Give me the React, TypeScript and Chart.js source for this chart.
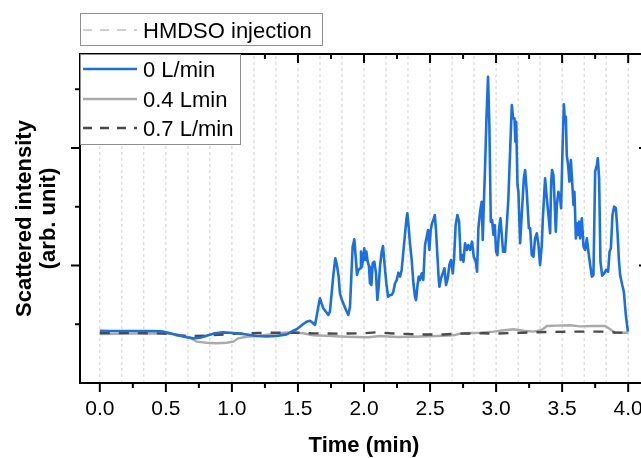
import { useEffect, useRef } from 'react'
import { Chart, registerables } from 'chart.js'

Chart.register(...registerables)

const FONT = "'Liberation Sans', Arial, sans-serif"

const X_TICKS = [0, 0.5, 1, 1.5, 2, 2.5, 3, 3.5, 4]
const X_TICK_LABELS = ['0.0', '0.5', '1.0', '1.5', '2.0', '2.5', '3.0', '3.5', '4.0']
const X_MINOR = [0.25, 0.75, 1.25, 1.75, 2.25, 2.75, 3.25, 3.75]
const Y_MAJOR = [1, 2]
const Y_MINOR = [0.5, 1.5, 2.5]
const X_MIN = -0.15
const X_MAX = 4.15
const Y_MAX = 2.8

const SERIES_NAMES = ['0 L/min', '0.4 Lmin', '0.7 L/min']
const INJECTION_NAME = 'HMDSO injection'

// HMDSO pulses, every 10 s
const INJECTIONS = [
  0, 0.167, 0.333, 0.5, 0.667, 0.833, 1, 1.167, 1.333, 1.5, 1.667, 1.833, 2,
  2.167, 2.333, 2.5, 2.667, 2.833, 3, 3.167, 3.333, 3.5, 3.667, 3.833, 4,
]

// [time (min), intensity]
const FLOW_0 = [
  [0, 0.445], [0.076, 0.443], [0.177, 0.443], [0.303, 0.443], [0.391, 0.443], [0.467, 0.44],
  [0.518, 0.428], [0.581, 0.409], [0.657, 0.389], [0.707, 0.38], [0.758, 0.386], [0.808, 0.403],
  [0.871, 0.423], [0.934, 0.431], [0.985, 0.428], [1.035, 0.423], [1.086, 0.417], [1.136, 0.409],
  [1.187, 0.4], [1.263, 0.397], [1.338, 0.4], [1.414, 0.414], [1.439, 0.428], [1.465, 0.445],
  [1.49, 0.457], [1.515, 0.479], [1.54, 0.502], [1.566, 0.522], [1.591, 0.53], [1.611, 0.513],
  [1.629, 0.494], [1.641, 0.564], [1.654, 0.649], [1.667, 0.721], [1.679, 0.678], [1.692, 0.636],
  [1.712, 0.607], [1.73, 0.579], [1.742, 0.607], [1.755, 0.763], [1.768, 0.919], [1.783, 1.061],
  [1.795, 1.004], [1.808, 0.905], [1.818, 0.763], [1.833, 0.706], [1.848, 0.664], [1.864, 0.621],
  [1.881, 0.579], [1.894, 0.649], [1.904, 0.905], [1.914, 1.16], [1.927, 1.223], [1.937, 1.075],
  [1.947, 0.919], [1.957, 0.962], [1.97, 0.976], [1.977, 1.118], [1.985, 0.99], [1.995, 1.075],
  [2.002, 1.146], [2.01, 1.047], [2.018, 1.118], [2.028, 1.033], [2.038, 0.99], [2.045, 0.849],
  [2.056, 0.834], [2.066, 1.019], [2.078, 1.033], [2.091, 0.933], [2.101, 0.706], [2.111, 0.82],
  [2.121, 0.99], [2.134, 1.118], [2.144, 1.166], [2.157, 0.99], [2.169, 0.849], [2.182, 0.735],
  [2.197, 0.749], [2.21, 0.749], [2.222, 0.777], [2.235, 0.849], [2.248, 0.877], [2.26, 0.939],
  [2.273, 0.905], [2.285, 0.962], [2.298, 1.118], [2.311, 1.274], [2.321, 1.393], [2.328, 1.444],
  [2.338, 1.33], [2.348, 1.189], [2.361, 1.047], [2.374, 0.849], [2.386, 0.735], [2.394, 0.706],
  [2.404, 0.82], [2.414, 0.905], [2.424, 0.877], [2.437, 0.933], [2.449, 0.877], [2.462, 1.174],
  [2.475, 1.245], [2.485, 1.302], [2.495, 1.132], [2.505, 1.302], [2.515, 1.359], [2.525, 1.387],
  [2.536, 1.43], [2.545, 1.302], [2.556, 1.075], [2.566, 0.877], [2.571, 0.82], [2.583, 0.891],
  [2.596, 0.933], [2.609, 0.976], [2.621, 0.834], [2.634, 0.891], [2.646, 1.004], [2.659, 1.047],
  [2.672, 0.933], [2.682, 1.061], [2.694, 1.345], [2.707, 1.43], [2.72, 1.373], [2.732, 1.047],
  [2.742, 1.089], [2.753, 1.033], [2.765, 1.189], [2.778, 1.132], [2.79, 1.174], [2.803, 1.132],
  [2.818, 1.203], [2.831, 1.075], [2.846, 1.033], [2.856, 0.947], [2.866, 1.317], [2.879, 1.458],
  [2.891, 1.543], [2.899, 1.217], [2.907, 1.515], [2.917, 1.855], [2.927, 2.253], [2.939, 2.607],
  [2.949, 2.196], [2.96, 1.373], [2.97, 1.387], [2.98, 1.26], [2.99, 1.345], [3, 1.118],
  [3.01, 1.089], [3.023, 1.317], [3.033, 1.401], [3.043, 1.26], [3.053, 1.118], [3.068, 1.118],
  [3.081, 1.345], [3.093, 1.572], [3.106, 1.969], [3.119, 2.366], [3.129, 2.253], [3.139, 2.253],
  [3.146, 2.054], [3.152, 2.224], [3.162, 1.685], [3.169, 1.628], [3.182, 1.189], [3.197, 1.487],
  [3.21, 1.742], [3.22, 1.813], [3.232, 1.628], [3.248, 1.317], [3.258, 1.317], [3.27, 1.089],
  [3.283, 1.075], [3.295, 1.231], [3.308, 1.274], [3.321, 1.174], [3.333, 1.004], [3.346, 1.174],
  [3.354, 1.401], [3.371, 1.742], [3.384, 1.572], [3.396, 1.43], [3.409, 1.274], [3.417, 1.713],
  [3.424, 1.813], [3.434, 1.77], [3.444, 1.515], [3.452, 1.288], [3.46, 1.515], [3.472, 1.628],
  [3.485, 1.572], [3.492, 1.487], [3.503, 1.997], [3.513, 2.372], [3.52, 2.253], [3.528, 2.267],
  [3.535, 1.94], [3.545, 1.855], [3.555, 1.713], [3.566, 1.898], [3.576, 1.713], [3.586, 1.515],
  [3.593, 1.628], [3.604, 1.231], [3.611, 1.359], [3.619, 1.26], [3.629, 1.373], [3.636, 1.231],
  [3.649, 1.401], [3.662, 1.16], [3.674, 1.132], [3.687, 1.231], [3.699, 1.118], [3.712, 1.004],
  [3.725, 0.905], [3.737, 0.919], [3.75, 1.799], [3.763, 1.855], [3.77, 1.912], [3.78, 1.742],
  [3.79, 1.033], [3.803, 0.913], [3.818, 0.933], [3.833, 0.962], [3.848, 0.947], [3.859, 1.118],
  [3.869, 1.146], [3.881, 1.43], [3.894, 1.501], [3.907, 1.487], [3.919, 1.288], [3.929, 1.061],
  [3.939, 0.919], [3.955, 0.834], [3.967, 0.777], [3.982, 0.579], [3.998, 0.437],
]

const FLOW_04 = [
  [0, 0.417], [0.2, 0.42], [0.48, 0.423], [0.581, 0.414], [0.682, 0.389], [0.732, 0.352],
  [0.808, 0.343], [0.884, 0.338], [0.96, 0.343], [1.01, 0.352], [1.048, 0.38], [1.111, 0.394],
  [1.187, 0.4], [1.288, 0.414], [1.389, 0.428], [1.465, 0.431], [1.54, 0.423], [1.616, 0.406],
  [1.75, 0.4], [1.869, 0.394], [2.033, 0.389], [2.121, 0.4], [2.25, 0.392], [2.374, 0.394],
  [2.551, 0.4], [2.677, 0.406], [2.74, 0.423], [2.879, 0.428], [2.98, 0.437], [3.03, 0.445],
  [3.131, 0.457], [3.207, 0.445], [3.283, 0.437], [3.34, 0.45], [3.359, 0.462], [3.384, 0.485],
  [3.46, 0.488], [3.561, 0.491], [3.636, 0.482], [3.737, 0.485], [3.826, 0.485], [3.864, 0.457],
  [3.902, 0.428], [4, 0.428],
]

const FLOW_07 = [
  [0, 0.425], [0.2, 0.425], [0.4, 0.423], [0.5, 0.42], [0.6, 0.405], [0.7, 0.4], [0.8, 0.403],
  [0.9, 0.41], [1, 0.418], [1.1, 0.423], [1.2, 0.425], [1.3, 0.428], [1.4, 0.428], [1.5, 0.428],
  [1.6, 0.423], [1.8, 0.42], [2, 0.423], [2.1, 0.432], [2.2, 0.423], [2.4, 0.413], [2.6, 0.413],
  [2.7, 0.42], [2.9, 0.423], [3, 0.42], [3.1, 0.425], [3.2, 0.428], [3.4, 0.435], [3.6, 0.437],
  [3.8, 0.437], [3.9, 0.43], [4, 0.428],
]

const toPts = (rows: number[][]) => rows.map(([x, y]) => ({ x, y }))

// box, ticks (out on bottom/left, in on top/right) and the two legend boxes
const framePlugin = {
  id: 'frame',
  afterDraw(chart: any) {
    const { ctx, chartArea: a, scales } = chart
    const sx = scales.x
    const sy = scales.y
    ctx.save()
    ctx.strokeStyle = '#000'
    ctx.lineWidth = 2
    ctx.setLineDash([])
    ctx.strokeRect(a.left, a.top, a.right - a.left, a.bottom - a.top)
    const seg = (x1: number, y1: number, x2: number, y2: number) => {
      ctx.beginPath()
      ctx.moveTo(x1, y1)
      ctx.lineTo(x2, y2)
      ctx.stroke()
    }
    const xt = (vals: number[], len: number) => vals.forEach(v => {
      const p = sx.getPixelForValue(v)
      seg(p, a.bottom, p, a.bottom + len)
      seg(p, a.top, p, a.top + len)
    })
    const yt = (vals: number[], len: number) => vals.forEach(v => {
      const p = sy.getPixelForValue(v)
      seg(a.left - len, p, a.left, p)
      seg(a.right - len, p, a.right, p)
    })
    xt(X_TICKS, 9)
    xt(X_MINOR, 5)
    yt(Y_MAJOR, 9)
    yt(Y_MINOR, 5)

    const dsets = chart.data.datasets
    ctx.font = `22px ${FONT}`
    ctx.textBaseline = 'middle'
    ctx.fillStyle = '#000'
    const box = (x: number, y: number, w: number, h: number) => {
      ctx.setLineDash([])
      ctx.fillStyle = '#fff'
      ctx.fillRect(x, y, w, h)
      ctx.strokeStyle = '#8f8f8f'
      ctx.lineWidth = 1
      ctx.strokeRect(x + 0.5, y + 0.5, w, h)
    }
    const entry = (ds: any, x: number, y: number) => {
      ctx.strokeStyle = ds.borderColor
      ctx.lineWidth = ds.legendWidth ?? ds.borderWidth
      ctx.setLineDash(ds.legendDash ?? [])
      seg(x, y, x + 54, y)
      ctx.setLineDash([])
      ctx.fillStyle = '#000'
      ctx.fillText(ds.label, x + 60, y + 1.5)
    }
    box(a.left, 13, 242, 32)
    entry(dsets[3], a.left + 3, 30)
    box(a.left, a.top, 160, 90)
    entry(dsets[0], a.left + 3, 69)
    entry(dsets[1], a.left + 3, 99)
    entry(dsets[2], a.left + 3, 128)
    ctx.restore()
  },
}

export default function App() {
  const ref = useRef<HTMLCanvasElement>(null)
  const inst = useRef<Chart | null>(null)

  useEffect(() => {
    if (!ref.current) return
    if (inst.current) inst.current.destroy()
    inst.current = new Chart(ref.current, {
      type: 'line',
      data: {
        datasets: [
          {
            label: SERIES_NAMES[0],
            data: toPts(FLOW_0),
            borderColor: '#1b6fe1',
            borderWidth: 2.6,
            borderJoinStyle: 'round',
            pointRadius: 0,
            tension: 0,
            order: 1,
          },
          {
            label: SERIES_NAMES[1],
            data: toPts(FLOW_04),
            borderColor: '#aaaaaa',
            borderWidth: 2.4,
            pointRadius: 0,
            tension: 0,
            order: 3,
          },
          {
            label: SERIES_NAMES[2],
            data: toPts(FLOW_07),
            borderColor: '#4a4a4a',
            borderWidth: 2.4,
            borderDash: [10, 9],
            legendDash: [9, 8],
            pointRadius: 0,
            tension: 0,
            order: 2,
          },
          {
            label: INJECTION_NAME,
            data: INJECTIONS.flatMap(t => [{ x: t, y: 0 }, { x: t, y: Y_MAX }, { x: t, y: null }]),
            borderColor: '#cfcfcf',
            borderWidth: 1,
            borderDash: [3, 3],
            legendDash: [9, 8],
            legendWidth: 2,
            pointRadius: 0,
            spanGaps: false,
            order: 4,
          } as any,
        ],
      },
      options: {
        responsive: false,
        animation: false,
        events: [],
        layout: { padding: { top: 54, right: 22, left: 0, bottom: 0 } },
        plugins: { legend: { display: false }, tooltip: { enabled: false } },
        scales: {
          x: {
            type: 'linear',
            min: X_MIN,
            max: X_MAX,
            afterBuildTicks: (s: any) => { s.ticks = X_TICKS.map(v => ({ value: v })) },
            afterFit: (s: any) => { s.height = 75 },
            grid: { display: false, drawTicks: false },
            border: { display: false },
            ticks: {
              autoSkip: false,
              maxRotation: 0,
              padding: 14,
              color: '#000',
              font: { family: FONT, size: 21 },
              callback: (v: any) => X_TICK_LABELS[X_TICKS.indexOf(Number(v))],
            },
            title: {
              display: true,
              text: 'Time (min)',
              color: '#000',
              font: { family: FONT, size: 22, weight: 'bold', lineHeight: 1.1 },
              padding: { top: 0, bottom: 0 },
            },
          },
          y: {
            min: 0,
            max: Y_MAX,
            afterFit: (s: any) => { s.width = 80 },
            grid: { display: false, drawTicks: false },
            border: { display: false },
            ticks: { display: false },
            title: {
              display: true,
              text: ['Scattered intensity', '(arb. unit)'],
              color: '#000',
              font: { family: FONT, size: 22, weight: 'bold', lineHeight: 1.1 },
              padding: { top: 13, bottom: 0 },
            },
          },
        },
      },
      plugins: [framePlugin],
    })
    return () => inst.current?.destroy()
  }, [])

  return (
    <div style={{ position: 'absolute', left: 0, top: 0, width: 641, height: 458, overflow: 'hidden', background: '#fff' }}>
      <canvas ref={ref} width={670} height={458} style={{ display: 'block' }} />
    </div>
  )
}
